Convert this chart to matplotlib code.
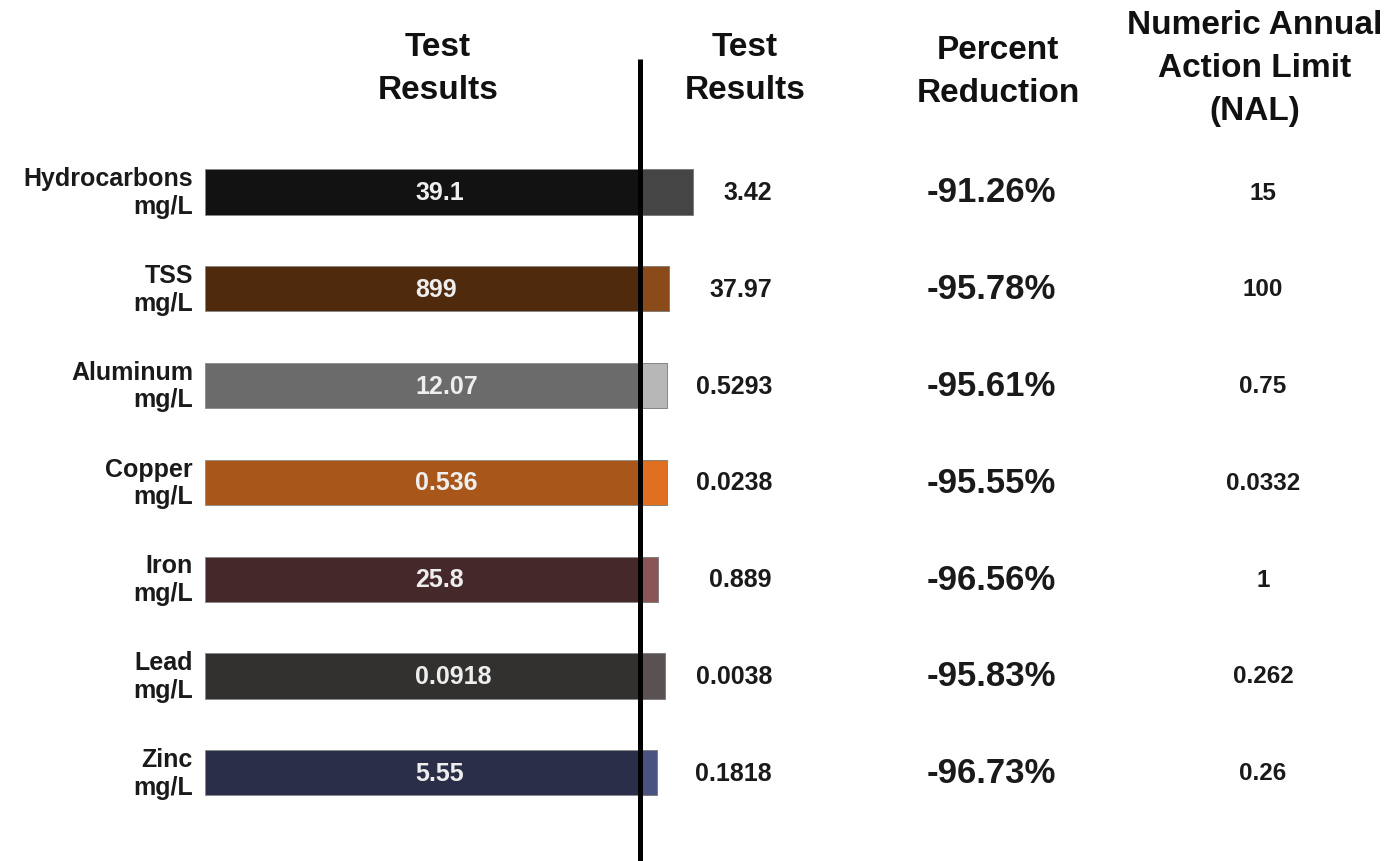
import matplotlib
matplotlib.use("Agg")
import matplotlib.pyplot as plt

plt.rcParams['font.family'] = ['Liberation Sans', 'DejaVu Sans']

# ---- data ----
categories = ["Hydrocarbons", "TSS", "Aluminum", "Copper", "Iron", "Lead", "Zinc"]
units = ["mg/L"] * 7
before_labels = ["39.1", "899", "12.07", "0.536", "25.8", "0.0918", "5.55"]
after_labels = ["3.42", "37.97", "0.5293", "0.0238", "0.889", "0.0038", "0.1818"]
pct_reduction = ["-91.26%", "-95.78%", "-95.61%", "-95.55%", "-96.56%", "-95.83%", "-96.73%"]
nal_labels = ["15", "100", "0.75", "0.0332", "1", "0.262", "0.26"]
# bar lengths as drawn (before bar normalised to 1, after bar length relative to it)
before_len = [1, 1, 1, 1, 1, 1, 1]
after_len = [0.122, 0.067, 0.062, 0.062, 0.041, 0.057, 0.039]
before_colors = ["#121212", "#4f2a0d", "#6b6b6b", "#a9561a", "#45292a", "#333130", "#2b2e48"]
after_colors = ["#454545", "#8a4a1a", "#b7b7b7", "#e07020", "#8b5556", "#5a5252", "#4a5282"]
headers = ["Test\nResults", "Test\nResults", "Percent\nReduction", "Numeric Annual\nAction Limit\n(NAL)"]

W, H = 1394, 862
fig = plt.figure(figsize=(W / 100, H / 100), dpi=100)
ax = fig.add_axes([0, 0, 1, 1])
px_unit = 435.0
row_px = 96.8
x0_px = 205.0
y0_px = 193.0
ax.set_xlim(-x0_px / px_unit, (W - x0_px) / px_unit)
ax.set_ylim((H - y0_px) / row_px, -y0_px / row_px)
ax.axis("off")

ys = list(range(len(categories)))
bh = 0.465
ax.barh(ys, before_len, height=bh, color=before_colors, edgecolor="#888888", linewidth=0.6, zorder=2)
ax.barh(ys, after_len, left=before_len, height=bh, color=after_colors, edgecolor="#777777", linewidth=0.6, zorder=2)

for i, y in enumerate(ys):
    ax.text(-12 / px_unit, y, f"{categories[i]}\n{units[i]}", ha="right", va="center",
            fontsize=18, fontweight="bold", color="#1a1a1a", linespacing=1.2)
    ax.text(0.4828, y, before_labels[i], ha="left", va="center",
            fontsize=18, fontweight="bold", color="#eeeeee", zorder=3)
    ax.text(1.3034, y, after_labels[i], ha="right", va="center",
            fontsize=18, fontweight="bold", color="#1a1a1a")
    ax.text(1.807, y, pct_reduction[i], ha="center", va="center",
            fontsize=25, fontweight="bold", color="#1a1a1a")
    ax.text(2.432, y, nal_labels[i], ha="center", va="center",
            fontsize=17.5, fontweight="bold", color="#1a1a1a")

header_x = [0.5356, 1.241, 1.823, 2.414]
header_y = [-1.281, -1.281, -1.255, -1.291]
for hx, hy, ht in zip(header_x, header_y, headers):
    ax.text(hx, hy, ht, ha="center", va="center", fontsize=24, fontweight="bold",
            color="#111111", linespacing=1.5)

ax.plot([1, 1], [(60 - y0_px) / row_px, (H - y0_px) / row_px], color="black", lw=3.6, zorder=4,
        solid_capstyle="butt")

fig.savefig("out.png", dpi=100)
